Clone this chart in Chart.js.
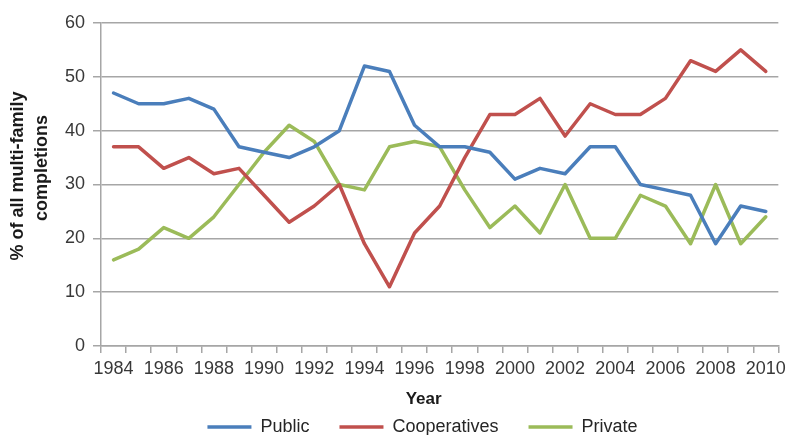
<!DOCTYPE html>
<html>
<head>
<meta charset="utf-8">
<script src="https://cdn.jsdelivr.net/npm/chart.js@4/dist/chart.umd.min.js"></script>
<style>
  html, body { margin: 0; padding: 0; background: #fff; }
  #wrap { width: 791px; height: 435px; }
</style>
</head>
<body>
<div id="wrap"><canvas id="c" width="791" height="435"></canvas></div>
<script>
// Share of multi-family completions by builder type, 1984-2010
const years = ['1984','1985','1986','1987','1988','1989','1990','1991','1992','1993','1994','1995','1996','1997','1998','1999','2000','2001','2002','2003','2004','2005','2006','2007','2008','2009','2010'];
const publicShare = [47,45,45,46,44,37,36,35,37,40,52,51,41,37,37,36,31,33,32,37,37,30,29,28,19,26,25];
const coopShare = [37,37,33,35,32,33,28,23,26,30,19,11,21,26,35,43,43,46,39,45,43,43,46,53,51,55,51];
const privateShare = [16,18,22,20,24,30,36,41,38,30,29,37,38,37,29,22,26,21,30,20,20,28,26,19,30,19,24];
const seriesNames = ['Public', 'Cooperatives', 'Private'];
const yTitleLines = ['% of all multi-family', 'completions'];
const xTitle = 'Year';

const FONT = "'Liberation Sans', Arial, sans-serif";
const GRID = '#a6a6a6';

// Axis titles drawn on the canvas after the chart
const axisTitles = {
  id: 'axisTitles',
  afterDraw(chart) {
    const ctx = chart.ctx;
    const area = chart.chartArea;
    ctx.save();
    ctx.fillStyle = '#1a1a1a';
    ctx.font = 'bold 17px ' + FONT;
    ctx.textAlign = 'center';
    ctx.textBaseline = 'middle';
    ctx.fillText(xTitle, (area.left + area.right) / 2 - 16, area.bottom + 53);
    ctx.font = 'bold 18px ' + FONT;
    const centers = [[18, 176], [42, 168]];
    yTitleLines.forEach((line, i) => {
      ctx.save();
      ctx.translate(centers[i][0], centers[i][1]);
      ctx.rotate(-Math.PI / 2);
      ctx.fillText(line, 0, 0);
      ctx.restore();
    });
    ctx.restore();
  }
};

// Centre the legend row under the plot area rather than the whole canvas
const legendUnderPlot = {
  id: 'legendUnderPlot',
  afterLayout(chart) {
    if (chart.legend) {
      chart.legend.left += 64;
    }
  }
};

const lineStyle = (color) => ({
  borderColor: color,
  backgroundColor: color,
  borderWidth: 3.5,
  pointRadius: 0,
  tension: 0,
  borderJoinStyle: 'round',
  borderCapStyle: 'round',
  fill: false
});

new Chart(document.getElementById('c'), {
  type: 'line',
  data: {
    labels: years,
    datasets: [
      { label: seriesNames[0], data: publicShare, ...lineStyle('#4a7ebb') },
      { label: seriesNames[1], data: coopShare, ...lineStyle('#c0504d') },
      { label: seriesNames[2], data: privateShare, ...lineStyle('#9bbb59') }
    ]
  },
  options: {
    responsive: false,
    animation: false,
    layout: { padding: { top: 23, right: 10, left: 0, bottom: -11 } },
    plugins: {
      tooltip: { enabled: false },
      legend: {
        position: 'bottom',
        labels: {
          usePointStyle: true,
          pointStyle: 'line',
          pointStyleWidth: 44,
          padding: 30,
          color: '#262626',
          font: { family: FONT, size: 18 }
        }
      }
    },
    scales: {
      x: {
        type: 'category',
        offset: true,
        afterFit(scale) { scale.height = 42; },
        grid: {
          offset: true,
          drawOnChartArea: false,
          drawTicks: true,
          tickLength: 7,
          color: GRID,
          lineWidth: 1.5
        },
        border: { display: true, color: GRID, width: 1.5 },
        ticks: {
          autoSkip: false,
          maxRotation: 0,
          padding: 5,
          color: '#383838',
          font: { family: FONT, size: 18 },
          callback(value, index) { return index % 2 === 0 ? years[index] : ''; }
        }
      },
      y: {
        min: 0,
        max: 60,
        afterFit(scale) { scale.width = 101; },
        grid: {
          color: GRID,
          lineWidth: 1.5,
          drawTicks: true,
          tickLength: 8
        },
        border: { display: true, color: GRID, width: 1.5 },
        ticks: {
          stepSize: 10,
          padding: 8,
          color: '#383838',
          font: { family: FONT, size: 18 }
        }
      }
    }
  },
  plugins: [axisTitles, legendUnderPlot]
});
</script>
</body>
</html>
